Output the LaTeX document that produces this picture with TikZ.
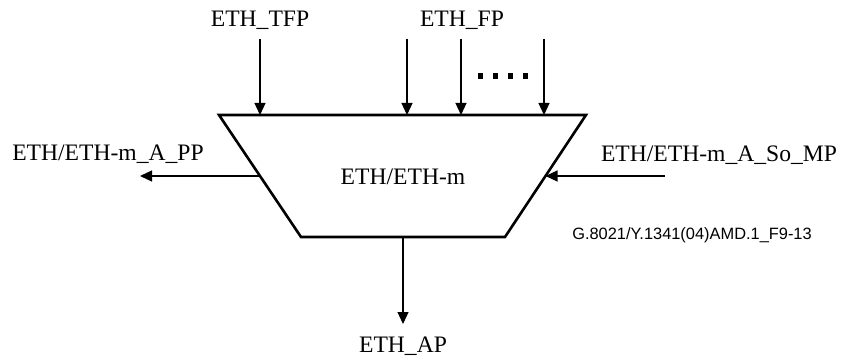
\documentclass[tikz,border=0pt]{standalone}
\usepackage{fontspec}
\setmainfont{Liberation Serif}
\newfontfamily\figfont{Liberation Sans}
\usetikzlibrary{arrows.meta, calc}

\begin{document}
\begin{tikzpicture}[
        x=1pt, y=-1pt,
        >={Triangle[length=12pt,width=11pt]},
        port/.style = {
            inner sep=0pt,
            anchor=base,
            font=\fontsize{23.6}{28}\selectfont
        },
        flow/.style = {
            ->,
            line width=1.2pt
        },
        block/.style = {
            line width=2.6pt,
            line join=miter
        },
        figref/.style = {
            inner sep=0pt,
            anchor=base,
            font=\figfont\fontsize{16.4}{20}\selectfont
        }
    ]
        \useasboundingbox (0,0) rectangle (843,358);

        % corners of the adaptation function
        \coordinate (tl) at (219,115);
        \coordinate (tr) at (586,115);
        \coordinate (br) at (505,237);
        \coordinate (bl) at (301,237);
        \draw [block] (tl) -- (tr) -- (br) -- (bl) -- cycle;

        \node [port]    (mod)   at (403,185)    {ETH/ETH-m};
        \node [port]    (tfp)   at (260,27)     {ETH\_TFP};
        \node [port]    (fp)    at (462,27)     {ETH\_FP};
        \node [port]    (pp)    at (108,161)    {ETH/ETH-m\_A\_PP};
        \node [port]    (somp)  at (719,162)    {ETH/ETH-m\_A\_So\_MP};
        \node [port]    (ap)    at (403,352)    {ETH\_AP};
        \node [figref]  (fig)   at (692,239)    {G.8021/Y.1341(04)AMD.1\_F9-13};

        % free ends of the connectors
        \coordinate (tfpin) at (260,39);
        \coordinate (fpin1) at (407,39);
        \coordinate (fpin2) at (461,39);
        \coordinate (fpin3) at (544,39);
        \coordinate (ppout) at (140,176);
        \coordinate (mpin)  at (665,176);
        \coordinate (apout) at (403,324);

        \draw [flow] (tfpin) -- (tfpin |- tl);
        \draw [flow] (fpin1) -- (fpin1 |- tl);
        \draw [flow] (fpin2) -- (fpin2 |- tl);
        \draw [flow] (fpin3) -- (fpin3 |- tl);
        \draw [flow] ($(tl)!0.5!(bl)$) -- (ppout);
        \draw [flow] (mpin) -- ($(tr)!0.5!(br)$);
        \draw [flow] ($(bl)!0.5!(br)$) -- (apout);

        \foreach \x in {478,493,508,523}
            \fill (\x,73) rectangle (\x+5,79);
    \end{tikzpicture}
\end{document}
